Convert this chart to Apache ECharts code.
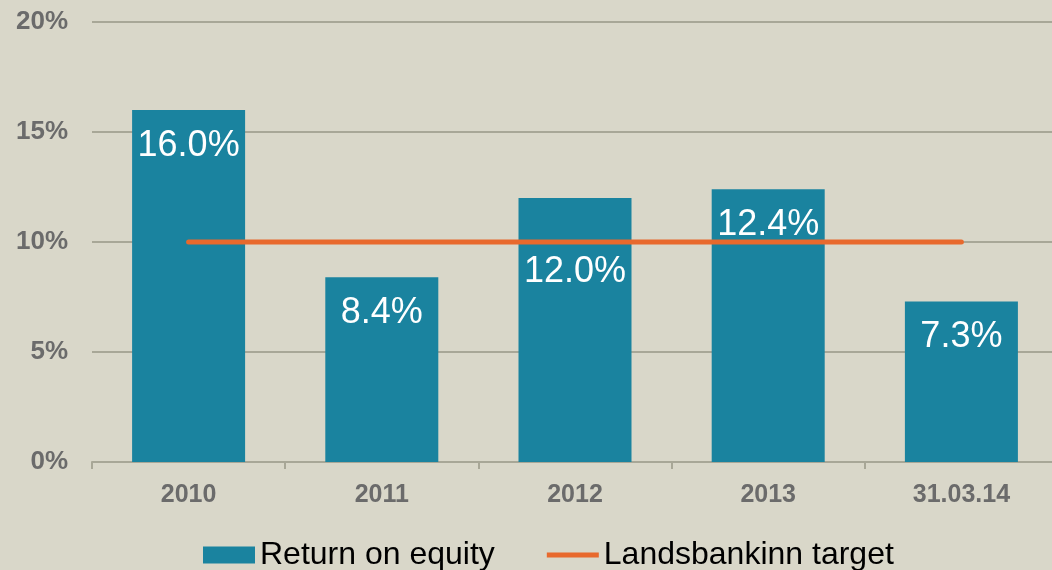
<!DOCTYPE html>
<html>
<head>
<meta charset="utf-8">
<script src="https://cdn.jsdelivr.net/npm/echarts@6/dist/echarts.min.js"></script>
<style>
  html, body { margin: 0; padding: 0; background: #D9D7C9; }
  #container { width: 1052px; height: 570px; }
</style>
</head>
<body>
<div id="container"></div>
<script>
// data
const categories = ['2010', '2011', '2012', '2013', '31.03.14'];
const returnOnEquity = [16.0, 8.4, 12.0, 12.4, 7.3];
const targetValues = [10, 10, 10, 10, 10];
const yTicks = [0, 5, 10, 15, 20];

const font = '"Liberation Sans", Arial, sans-serif';

// the 2012 label sits below the target line in the original
const barData = returnOnEquity.map((v, i) => ({
  value: v,
  label: i === 2 ? { distance: 56 } : {}
}));

var dom = document.getElementById('container');
var myChart = echarts.init(dom, null, { renderer: 'canvas' });

var option = {
  backgroundColor: '#D9D7C9',
  animation: false,
  textStyle: { fontFamily: font },
  grid: {
    left: 92,
    right: -6,
    top: 22,
    bottom: 108,
    containLabel: false,
    outerBoundsMode: 'none'
  },
  legend: {
    left: 198,
    top: 534,
    itemWidth: 52,
    itemHeight: 17,
    itemGap: 52,
    textStyle: { fontSize: 32, color: '#000', fontFamily: font },
    data: [
      { name: 'Return on equity', icon: 'rect' },
      { name: 'Landsbankinn target', icon: 'path://M0,0 H52 V5 H0 Z', itemStyle: { color: '#E8692D' } }
    ]
  },
  xAxis: {
    type: 'category',
    data: categories,
    axisLine: { lineStyle: { color: '#A8A797', width: 2 } },
    axisTick: { show: true, length: 7, lineStyle: { color: '#A8A797', width: 2 } },
    axisLabel: { color: '#6B6B6B', fontSize: 25, fontWeight: 'bold', margin: 21, fontFamily: font }
  },
  yAxis: {
    type: 'value',
    min: yTicks[0],
    max: yTicks[yTicks.length - 1],
    interval: 5,
    axisLine: { show: false },
    axisTick: { show: false },
    splitLine: { lineStyle: { color: '#A8A797', width: 2 } },
    axisLabel: {
      color: '#6B6B6B', fontSize: 26, fontWeight: 'bold', margin: 24, fontFamily: font,
      formatter: v => v + '%'
    }
  },
  series: [
    {
      name: 'Return on equity',
      type: 'bar',
      barWidth: 113,
      data: barData,
      itemStyle: { color: '#1A839F' },
      label: {
        show: true,
        position: 'insideTop',
        distance: 18,
        color: '#FFFFFF',
        fontSize: 36,
        fontFamily: font,
        formatter: p => p.value.toFixed(1) + '%'
      },
      z: 2
    },
    {
      name: 'Landsbankinn target',
      type: 'line',
      data: targetValues,
      symbol: 'none',
      lineStyle: { color: '#E8692D', width: 5, cap: 'round' },
      itemStyle: { color: '#E8692D' },
      z: 3
    }
  ]
};

myChart.setOption(option);
</script>
</body>
</html>
